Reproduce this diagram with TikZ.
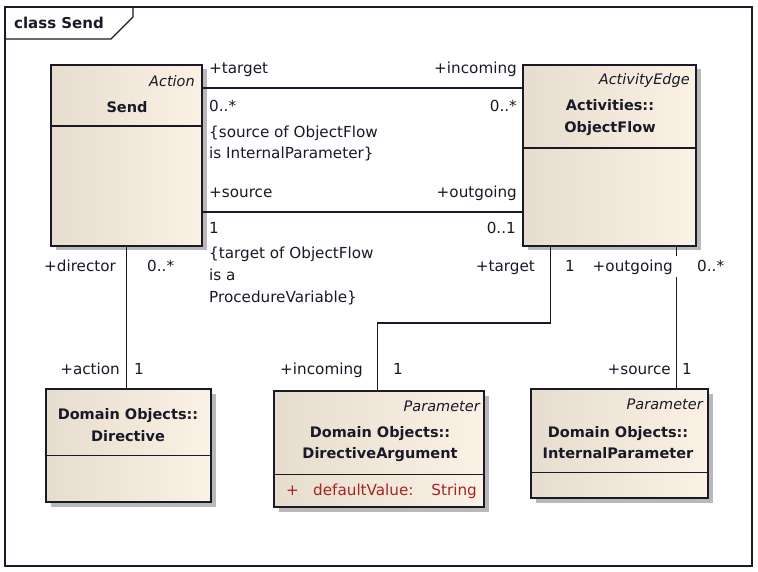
\documentclass[tikz,border=0pt]{standalone}
\usepackage{fontspec}
\setmainfont{DejaVu Sans}
\usetikzlibrary{calc,shadows}
\definecolor{boxL}{RGB}{230,221,206}
\definecolor{boxR}{RGB}{251,242,229}
\definecolor{ink}{RGB}{25,25,40}
\definecolor{attr}{RGB}{165,35,35}
\definecolor{shadecol}{RGB}{185,185,185}
\tikzset{
  umlbox/.style={draw=ink, line width=1.5pt, left color=boxL, right color=boxR, inner sep=0pt,
    drop shadow={shadow xshift=4.5pt, shadow yshift=-4.5pt, fill=shadecol, opacity=1}},
  divider/.style={draw=ink, line width=1.5pt},
  conn/.style={draw=ink, line width=1.5pt},
  lbl/.style={inner sep=0pt, text height=10.5pt, text depth=3pt, text=ink},
  stereo/.style={inner sep=0pt, font=\fontsize{14.5}{17}\selectfont\itshape, text=ink},
  classname/.style={inner sep=0pt, align=center, font=\fontsize{14.5}{21.5}\selectfont\bfseries, text=ink},
  cons/.style={inner sep=0pt, align=left, text=ink},
  attrtext/.style={inner sep=0pt, text height=10.5pt, text depth=3pt, text=attr},
}
\begin{document}
\begin{tikzpicture}[x=1pt, y=-1pt, font=\fontsize{15.2}{21.5}\selectfont]
\useasboundingbox (0,0) rectangle (758,572);
\fill[white] (0,0) rectangle (758,572);
% frame and tab
\draw[ink, line width=1.2pt] (5,7) rectangle (752,566);
\draw[ink, line width=1.2pt] (5,39) -- (111,39) -- (133,17) -- (133,7);
\node[inner sep=0pt, anchor=west, font=\fontsize{15}{17}\selectfont\bfseries, text=ink] (title) at (14,23) {class Send};

% boxes
\node[umlbox, minimum width=151pt, minimum height=181pt] (send) at (126.5,155.5) {};
\node[umlbox, minimum width=173pt, minimum height=181pt] (objflow) at (609.5,155.5) {};
\node[umlbox, minimum width=165pt, minimum height=113pt] (directive) at (128.5,445.5) {};
\node[umlbox, minimum width=210pt, minimum height=116pt] (dirarg) at (379,449) {};
\node[umlbox, minimum width=177pt, minimum height=109pt] (intparam) at (619.5,443.5) {};

% dividers
\draw[divider] ([yshift=-62pt]send.north west) -- ([yshift=-62pt]send.north east);
\draw[divider] ([yshift=-84pt]objflow.north west) -- ([yshift=-84pt]objflow.north east);
\draw[divider] ([yshift=-67pt]directive.north west) -- ([yshift=-67pt]directive.north east);
\draw[divider] ([yshift=-84pt]dirarg.north west) -- ([yshift=-84pt]dirarg.north east);
\draw[divider] ([yshift=-84pt]intparam.north west) -- ([yshift=-84pt]intparam.north east);

% box texts
\node[stereo, anchor=east] (sendst) at (195,81) {Action};
\node[classname] (sendname) at (127,107) {Send};
\node[stereo, anchor=east] (ofst) at (690,81) {ActivityEdge};
\node[classname] (ofname) at (610,117.5) {Activities::\\ObjectFlow};
\node[classname] (dirname) at (128,425) {Domain Objects::\\Directive};
\node[stereo, anchor=east] (dast) at (480,406) {Parameter};
\node[classname] (daname) at (380,444) {Domain Objects::\\DirectiveArgument};
\node[attrtext, anchor=west] (daplus) at (286,492) {+};
\node[attrtext, anchor=west] (daattr) at (313,492) {defaultValue:};
\node[attrtext, anchor=east] (datype) at (477,492) {String};
\node[stereo, anchor=east] (ipst) at (703,404) {Parameter};
\node[classname] (ipname) at (618,442.5) {Domain Objects::\\InternalParameter};

% connectors
\draw[conn] ([yshift=-24pt]send.north east) -- ([yshift=-24pt]objflow.north west);
\draw[conn] ([yshift=-148pt]send.north east) -- ([yshift=-148pt]objflow.north west);
\draw[conn] ([xshift=76pt]send.south west) -- ([xshift=76pt]send.south west |- directive.north);
\draw[conn] ([xshift=28pt]objflow.south west) -- ++(0pt,-76pt) -| ([xshift=104pt]dirarg.north west);
\draw[conn] ([xshift=154pt]objflow.south west) -- ++(0pt,-9pt);
\draw[conn] ([xshift=146pt]intparam.north west) -- ++(0pt,111pt);

% labels: Send - ObjectFlow (upper)
\node[lbl, anchor=west] (l1) at (209,70) {+target};
\node[lbl, anchor=east] (l2) at (517,70) {+incoming};
\node[lbl, anchor=west] (l3) at (209,108) {0..*};
\node[lbl, anchor=east] (l4) at (517,108) {0..*};
\node[cons, anchor=north west] (c1) at (209,125.5) {\{source of ObjectFlow\\is InternalParameter\}};
% labels: Send - ObjectFlow (lower)
\node[lbl, anchor=west] (l5) at (209,194) {+source};
\node[lbl, anchor=east] (l6) at (517,194) {+outgoing};
\node[lbl, anchor=west] (l7) at (209,230) {1};
\node[lbl, anchor=east] (l8) at (516,230) {0..1};
\node[cons, anchor=north west, font=\fontsize{15.2}{22}\selectfont] (c2) at (209,246.5) {\{target of ObjectFlow\\is a\\ProcedureVariable\}};
% Send - Directive
\node[lbl, anchor=west] (l9) at (44,268) {+director};
\node[lbl, anchor=west] (l10) at (147,268) {0..*};
\node[lbl, anchor=east] (l11) at (120,371) {+action};
\node[lbl, anchor=west] (l12) at (134,371) {1};
% ObjectFlow - DirectiveArgument
\node[lbl, anchor=east] (l13) at (535,268) {+target};
\node[lbl, anchor=west] (l14) at (565,268) {1};
\node[lbl, anchor=east] (l15) at (363,371) {+incoming};
\node[lbl, anchor=west] (l16) at (393,371) {1};
% ObjectFlow - InternalParameter
\node[lbl, anchor=east] (l17) at (673,268) {+outgoing};
\node[lbl, anchor=west] (l18) at (697,268) {0..*};
\node[lbl, anchor=east] (l19) at (671,371) {+source};
\node[lbl, anchor=west] (l20) at (682,371) {1};
\end{tikzpicture}
\end{document}
